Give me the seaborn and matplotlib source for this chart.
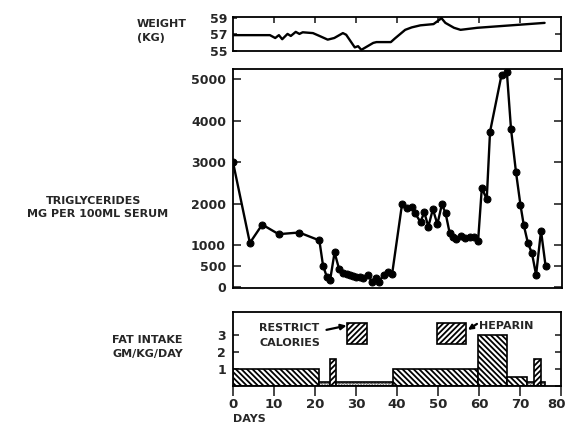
import matplotlib
matplotlib.use("Agg")
import matplotlib.pyplot as plt
import matplotlib.transforms as mtransforms
from matplotlib.patches import Rectangle
import numpy as np
import pandas as pd
import seaborn as sns

# Body weight (kg) by day
weight_day = [0, 9, 10.3, 11.2, 12.0, 13.3, 14.1, 15.3, 16.2, 17.0, 19.5, 21.1,
              23.1, 24.7, 26.8, 27.6, 29.7, 30.5, 31.3, 34.2, 35.0, 38.5, 39.5,
              42.0, 43.6, 45.7, 48.9, 50.4, 50.8, 51.8, 53.9, 55.5, 59.6, 67.8, 76.0]
weight_kg = [56.9, 56.9, 56.55, 56.9, 56.4, 57.05, 56.8, 57.3, 57.05, 57.25, 57.15, 56.8,
             56.35, 56.55, 57.15, 56.95, 55.4, 55.55, 55.1, 55.95, 56.05, 56.05, 56.5,
             57.55, 57.85, 58.1, 58.25, 58.8, 59.0, 58.4, 57.8, 57.55, 57.8, 58.1, 58.4]

# Serum triglycerides (mg per 100 ml) by day
tg_day = [0, 4.1, 7.1, 11.1, 16.1, 21.0, 21.9, 22.8, 23.6, 24.7, 25.8, 26.8,
          27.6, 28.4, 29.2, 30.0, 30.8, 31.6, 32.9, 33.7, 34.8, 35.5, 36.6, 37.8, 38.7,
          41.1, 42.3, 43.5, 44.3, 45.6, 46.5, 47.5, 48.6, 49.7, 50.8, 51.7,
          52.7, 53.5, 54.3, 55.5, 56.5, 57.6, 58.6, 59.6, 60.5, 61.7, 62.5,
          65.3, 66.6, 67.6, 68.8, 69.9, 70.7, 71.7, 72.7, 73.7, 74.9, 76.0]
tg_value = [3000, 1060, 1500, 1270, 1310, 1120, 510, 250, 160, 830, 430, 330,
            310, 290, 270, 250, 230, 210, 300, 130, 210, 130, 290, 355, 320,
            1990, 1900, 1930, 1770, 1560, 1800, 1450, 1870, 1510, 1990, 1770,
            1290, 1210, 1150, 1220, 1170, 1190, 1210, 1110, 2380, 2110, 3730,
            5100, 5160, 3800, 2770, 1970, 1490, 1060, 810, 290, 1350, 510]

# Fat intake (g/kg/day) as day intervals
fat_start = [0, 21.0, 23.6, 25.0, 39.0, 59.8, 66.8, 71.7, 73.5, 75.0]
fat_end = [21.0, 23.6, 25.0, 39.0, 59.8, 66.8, 71.7, 73.5, 75.0, 76.0]
fat_level = [1.0, 0.22, 1.6, 0.22, 1.0, 3.0, 0.5, 0.22, 1.6, 0.22]
fat_kind = ["diet", "low", "heparin", "low", "diet", "diet", "diet", "low", "heparin", "low"]

tg_ticks = [0, 500, 1000, 2000, 3000, 4000, 5000]
weight_ticks = [55, 57, 59]
fat_ticks = [1, 2, 3]
day_ticks = list(range(0, 81, 10))

sns.set_style("white")
plt.rcParams["font.family"] = ["DejaVu Sans"]
plt.rcParams["font.weight"] = "bold"
plt.rcParams["hatch.linewidth"] = 1.3
plt.rcParams["hatch.color"] = "black"

W, H = 568, 424
fig = plt.figure(figsize=(W / 100, H / 100), dpi=100)


def box(l, t, r, b):
    return [l / W, 1 - b / H, (r - l) / W, (b - t) / H]


ax_w = fig.add_axes(box(233, 17, 561, 51))
ax_t = fig.add_axes(box(233, 69, 562, 288))
ax_f = fig.add_axes(box(233, 312, 561, 386))

for ax in (ax_w, ax_t, ax_f):
    for s in ax.spines.values():
        s.set_color("black")
        s.set_linewidth(1.3)
        s.set_visible(True)
    ax.set_xlim(0, 80)
    ax.set_facecolor("white")

# Weight panel
wdf = pd.DataFrame({"day": weight_day, "kg": weight_kg})
sns.lineplot(data=wdf, x="day", y="kg", ax=ax_w, color="black", linewidth=1.7,
             sort=False, estimator=None)
ax_w.set_ylim(54.96, 59.12)
ax_w.set_yticks(weight_ticks)
ax_w.set_yticklabels([str(v) for v in weight_ticks], fontsize=9, fontweight="bold")
ax_w.tick_params(axis="y", left=True, direction="in", length=3, width=1.2, pad=4)
ax_w.set_xticks(list(range(10, 80, 10)))
ax_w.tick_params(axis="x", bottom=False, top=True, labelbottom=False,
                 direction="in", length=4, width=1.2)
axr = ax_w.secondary_yaxis("right")
axr.set_yticks([57])
axr.set_yticklabels([])
axr.tick_params(direction="in", length=4, width=1.2)
axr.spines["right"].set_visible(False)
ax_w.set_xlabel("")
ax_w.set_ylabel("")

# Triglyceride panel
tdf = pd.DataFrame({"day": tg_day, "tg": tg_value})
sns.lineplot(data=tdf, x="day", y="tg", ax=ax_t, color="black", linewidth=1.7,
             marker="o", markersize=5, markeredgecolor="black",
             markerfacecolor="black", sort=False, estimator=None)
ax_t.set_ylim(-24, 5240)
ax_t.set_yticks(tg_ticks)
ax_t.set_yticklabels([str(v) for v in tg_ticks], fontsize=9, fontweight="bold")
ax_t.tick_params(axis="y", left=True, right=True, direction="in", length=6,
                 width=1.2, pad=5)
ax_t.set_xticks([])
ax_t.set_xlabel("")
ax_t.set_ylabel("")

# Fat intake panel
hatch_for = {"diet": "\\" * 6, "low": "......", "heparin": "/" * 6}
for s0, s1, lvl, kind in zip(fat_start, fat_end, fat_level, fat_kind):
    ax_f.bar(s0, lvl, width=s1 - s0, align="edge", facecolor="white",
             edgecolor="black", linewidth=1.2, hatch=hatch_for[kind])
ax_f.set_ylim(0, 4.35)
ax_f.set_yticks([0] + fat_ticks)
ax_f.set_yticklabels([""] + [str(v) for v in fat_ticks], fontsize=9, fontweight="bold")
ax_f.tick_params(axis="y", left=True, right=True, direction="in", length=4,
                 width=1.2, pad=5)
ax_f.set_xticks(day_ticks)
ax_f.set_xticklabels([str(v) for v in day_ticks], fontsize=9.5, fontweight="bold")
ax_f.tick_params(axis="x", bottom=True, direction="out", length=7, width=1.2, pad=2)
# keep the last day label inside the canvas
last = ax_f.get_xticklabels()[-1]
last.set_transform(last.get_transform() +
                   mtransforms.ScaledTranslation(-4 / 100, 0, fig.dpi_scale_trans))

# Key boxes
ax_f.add_patch(Rectangle((27.9, 2.47), 4.9, 1.23, facecolor="white",
                         edgecolor="black", linewidth=1.2, hatch="/" * 6))
ax_f.add_patch(Rectangle((49.8, 2.47), 7.1, 1.23, facecolor="white",
                         edgecolor="black", linewidth=1.2, hatch="/" * 6))
ax_f.text(6.4, 3.42, "RESTRICT", fontsize=8, fontweight="bold", va="center", ha="left")
ax_f.text(6.4, 2.52, "CALORIES", fontsize=8, fontweight="bold", va="center", ha="left")
ax_f.annotate("", xy=(27.7, 3.55), xytext=(22.8, 3.3),
              arrowprops=dict(arrowstyle="-|>", color="black", lw=1.6,
                              mutation_scale=8, shrinkA=0, shrinkB=0))
ax_f.text(59.9, 3.5, "HEPARIN", fontsize=8, fontweight="bold", va="center", ha="left")
ax_f.annotate("", xy=(57.3, 3.3), xytext=(59.5, 3.65),
              arrowprops=dict(arrowstyle="-|>", color="black", lw=1.6,
                              mutation_scale=7, shrinkA=0, shrinkB=0))

# Panel labels
fig.text(137 / W, 1 - 24 / H, "WEIGHT", fontsize=8, fontweight="bold", ha="left", va="center")
fig.text(137 / W, 1 - 38 / H, "(KG)", fontsize=8, fontweight="bold", ha="left", va="center")
fig.text(94 / W, 1 - 201 / H, "TRIGLYCERIDES", fontsize=8, fontweight="bold",
         ha="center", va="center")
fig.text(98 / W, 1 - 214 / H, "MG PER 100ML SERUM", fontsize=8, fontweight="bold",
         ha="center", va="center")
fig.text(183 / W, 1 - 340 / H, "FAT INTAKE", fontsize=8, fontweight="bold",
         ha="right", va="center")
fig.text(183 / W, 1 - 354 / H, "GM/KG/DAY", fontsize=8, fontweight="bold",
         ha="right", va="center")
fig.text(233 / W, 1 - 419 / H, "DAYS", fontsize=8, fontweight="bold", ha="left", va="center")

fig.savefig("out.png", dpi=100, facecolor="white")
